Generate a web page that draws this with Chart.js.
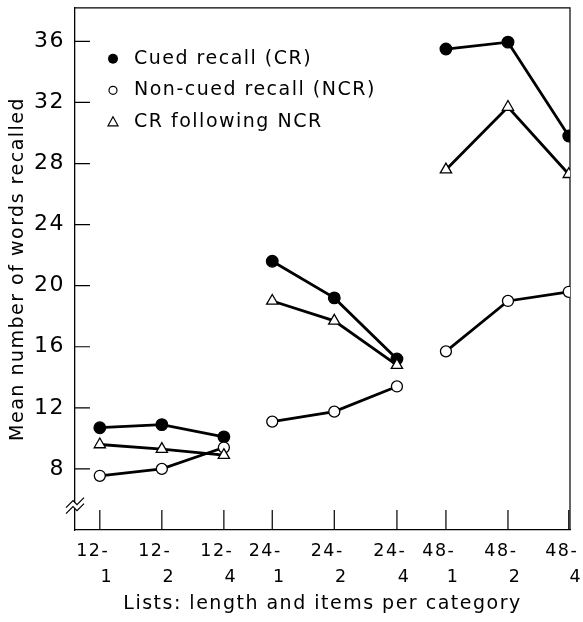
<!DOCTYPE html>
<html>
<head>
<meta charset="utf-8">
<script src="https://cdn.jsdelivr.net/npm/chart.js@4/dist/chart.umd.min.js"></script>
<style>
  html, body { margin: 0; padding: 0; background: #fff; }
  #wrap { width: 583px; height: 622px; }
</style>
</head>
<body>
<div id="wrap"><canvas id="chart"></canvas></div>
<script>
// list conditions: length "12-" / items per category "1"
const categories = [['12-', '1'], ['12-', '2'], ['12-', '4'],
                    ['24-', '1'], ['24-', '2'], ['24-', '4'],
                    ['48-', '1'], ['48-', '2'], ['48-', '4']];
// the groups sit a little closer together than the items inside them
const xPos = [0, 1, 2, 2.78, 3.78, 4.79, 5.58, 6.58, 7.56];
const cuedRecall     = [10.7, 10.9, 10.1, 21.6, 19.2, 15.2, 35.5, 35.95, 29.8];
const nonCuedRecall  = [7.55, 8.0, 9.4, 11.1, 11.75, 13.4, 15.7, 19.0, 19.6];
const crFollowingNcr = [9.6, 9.3, 8.9, 19.0, 17.7, 14.8, 27.6, 31.7, 27.3];
const yTicks = [8, 12, 16, 20, 24, 28, 32, 36];
const legendLabels = ['Cued recall (CR)', 'Non-cued recall (NCR)', 'CR following NCR'];

const FONT = 'DejaVu Sans';
const SPACING = '1.5px';

// lines are broken between the three list lengths
function points(values) {
  const out = [];
  values.forEach((v, i) => {
    out.push({x: xPos[i], y: v});
    if (i % 3 == 2 && i < values.length - 1) {
      out.push({x: (xPos[i] + xPos[i + 1]) / 2, y: null});
    }
  });
  return out;
}

// the old typeset lettering is spaced out wider than DejaVu
const spacing = {
  id: 'spacing',
  beforeUpdate(chart) { chart.ctx.letterSpacing = SPACING; },
  beforeDraw(chart) { chart.ctx.letterSpacing = SPACING; }
};

const extras = {
  id: 'extras',
  beforeDatasetsDraw(chart) {
    const ctx = chart.ctx;
    const a = chart.chartArea;
    const xs = chart.scales.x, ys = chart.scales.y;
    ctx.save();
    ctx.strokeStyle = '#000';
    ctx.lineWidth = 1.2;
    // top and right edges of the frame
    ctx.beginPath();
    ctx.moveTo(a.left, a.top);
    ctx.lineTo(a.right, a.top);
    ctx.lineTo(a.right, a.bottom);
    ctx.stroke();
    // inward tick marks
    ctx.beginPath();
    xPos.forEach(v => {
      const px = xs.getPixelForValue(v);
      ctx.moveTo(px, a.bottom);
      ctx.lineTo(px, a.bottom - 20);
    });
    yTicks.forEach(v => {
      const py = ys.getPixelForValue(v);
      ctx.moveTo(a.left, py);
      ctx.lineTo(a.left + 15, py);
    });
    ctx.stroke();
    // axis break mark
    const by = ys.getPixelForValue(5.6);
    ctx.fillStyle = '#fff';
    ctx.fillRect(a.left - 2, by - 3, 4, 6);
    ctx.beginPath();
    [-3, 3].forEach(d => {
      ctx.moveTo(a.left - 9, by + d + 5);
      ctx.lineTo(a.left - 2, by + d - 2);
      ctx.lineTo(a.left + 2, by + d + 2);
      ctx.lineTo(a.left + 9, by + d - 5);
    });
    ctx.stroke();
    ctx.restore();
  },
  afterDraw(chart) {
    const ctx = chart.ctx;
    const a = chart.chartArea;
    ctx.save();
    ctx.font = '19px "' + FONT + '"';
    ctx.fillStyle = '#000';
    ctx.strokeStyle = '#000';
    ctx.textBaseline = 'middle';
    const mx = a.left + 38, tx = a.left + 59;
    legendLabels.forEach((label, i) => {
      const y = a.top + 51 + i * 31.5;
      ctx.lineWidth = 1.2;
      ctx.beginPath();
      if (i == 0) {
        ctx.arc(mx, y, 5, 0, Math.PI * 2);
        ctx.fill();
      } else if (i == 1) {
        ctx.arc(mx, y, 4, 0, Math.PI * 2);
        ctx.stroke();
      } else {
        ctx.moveTo(mx, y - 5);
        ctx.lineTo(mx + 5, y + 4);
        ctx.lineTo(mx - 5, y + 4);
        ctx.closePath();
        ctx.stroke();
      }
      ctx.fillText(label, tx, y);
    });
    ctx.restore();
  }
};

const lineStyle = {
  borderColor: '#000',
  borderWidth: 2.8,
  pointBorderColor: '#000',
  pointBorderWidth: 1.3,
  spanGaps: false,
  tension: 0
};

new Chart(document.getElementById('chart'), {
  type: 'line',
  data: {
    datasets: [{
      label: legendLabels[2],
      data: points(crFollowingNcr),
      pointStyle: 'triangle',
      pointRadius: 6.5,
      pointBackgroundColor: '#fff',
      ...lineStyle
    }, {
      label: legendLabels[1],
      data: points(nonCuedRecall),
      pointStyle: 'circle',
      pointRadius: 5.5,
      pointBackgroundColor: '#fff',
      ...lineStyle
    }, {
      label: legendLabels[0],
      data: points(cuedRecall),
      pointStyle: 'circle',
      pointRadius: 5.8,
      pointBackgroundColor: '#000',
      ...lineStyle
    }]
  },
  options: {
    responsive: true,
    maintainAspectRatio: false,
    animation: false,
    layout: {padding: {top: 7, right: 13, left: 0, bottom: 0}},
    plugins: {
      legend: {display: false},
      tooltip: {enabled: false}
    },
    scales: {
      x: {
        type: 'linear',
        min: -0.4,
        max: 7.58,
        afterBuildTicks: s => { s.ticks = xPos.map(v => ({value: v})); },
        afterFit: s => { s.height = 92; s.paddingLeft = 0; s.paddingRight = 0; },
        grid: {drawOnChartArea: false, drawTicks: false},
        border: {display: true, color: '#000', width: 1.3},
        ticks: {
          autoSkip: false,
          maxRotation: 0,
          padding: 8,
          color: '#000',
          font: {family: FONT, size: 17.5, lineHeight: 1.5},
          // first line sits a bit left of the tick, second a bit right
          callback: (v, i) => [categories[i][0] + '  ', '  ' + categories[i][1]]
        },
        title: {
          display: true,
          text: 'Lists: length and items per category',
          color: '#000',
          font: {family: FONT, size: 19},
          padding: {top: 0, bottom: 7}
        }
      },
      y: {
        min: 4,
        max: 38.2,
        afterBuildTicks: s => { s.ticks = yTicks.map(v => ({value: v})); },
        afterFit: s => { s.width = 75; s.paddingTop = 0; s.paddingBottom = 0; },
        grid: {drawOnChartArea: false, drawTicks: false},
        border: {display: true, color: '#000', width: 1.3},
        ticks: {
          padding: 10,
          color: '#000',
          font: {family: FONT, size: 22}
        },
        title: {
          display: true,
          text: 'Mean number of words recalled',
          color: '#000',
          font: {family: FONT, size: 19},
          padding: {top: 7, bottom: 0}
        }
      }
    }
  },
  plugins: [spacing, extras]
});
</script>
</body>
</html>
